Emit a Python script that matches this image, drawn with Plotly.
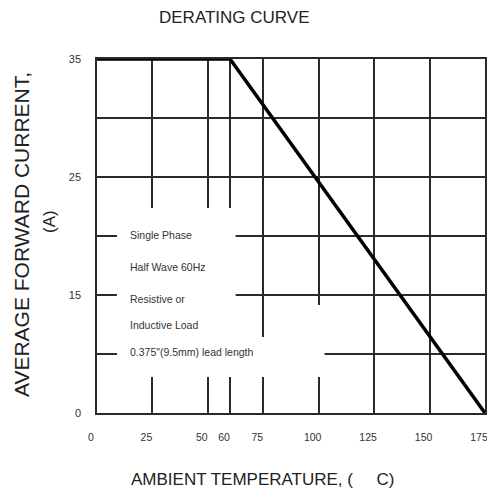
import plotly.graph_objects as go

# ---- data ----
temperature = [0, 60, 175]          # ambient temperature (°C)
current = [35, 35, 0]               # average forward current (A)

x_tick_vals = [0, 25, 50, 60, 75, 100, 125, 150, 175]
x_tick_text = ["0", "25", "50", "60", "75", "100", "125", "150", "175"]

y_tick_vals = [0, 35 / 6, 2 * 35 / 6, 3 * 35 / 6, 4 * 35 / 6, 5 * 35 / 6, 35]
y_tick_text = ["0", "", "15", "", "25", "", "35"]

note_lines = ["Single Phase", "Half Wave 60Hz", "Resistive or",
              "Inductive Load", "0.375\"(9.5mm) lead length"]
note_y = [0.503, 0.412, 0.322, 0.249, 0.172]

FONT = "Liberation Sans, Arial, sans-serif"
GRID = "#2a2a2a"

fig = go.Figure()
fig.add_trace(go.Scatter(
    x=temperature, y=current, mode="lines",
    line=dict(color="black", width=3.5),
    hoverinfo="skip", showlegend=False, cliponaxis=False,
))

fig.update_layout(
    width=487, height=498,
    margin=dict(l=97, r=2, t=59, b=85, autoexpand=False),
    paper_bgcolor="white", plot_bgcolor="white",
    font=dict(family=FONT, color="#222"),
    showlegend=False,
)

fig.update_xaxes(
    range=[0, 175], tickvals=x_tick_vals, ticktext=x_tick_text,
    showgrid=True, gridcolor=GRID, gridwidth=1.5,
    showline=True, linecolor=GRID, linewidth=1.5, mirror=True,
    ticks="outside", ticklen=14, tickcolor="rgba(0,0,0,0)",
    tickfont=dict(size=10.5, family=FONT, color="#333"),
    ticklabeloverflow="allow", ticklabelshift=-6, automargin=False,
    zeroline=False, fixedrange=True,
)
fig.update_yaxes(
    range=[0, 35], tickvals=y_tick_vals, ticktext=y_tick_text,
    showgrid=True, gridcolor=GRID, gridwidth=1.5,
    showline=True, linecolor=GRID, linewidth=1.5, mirror=True,
    ticks="outside", ticklen=12, tickcolor="rgba(0,0,0,0)",
    tickfont=dict(size=11, family=FONT, color="#333"),
    automargin=False,
    zeroline=False, fixedrange=True,
)

# white areas behind the note text (cover grid lines)
for x0, x1, y0, y1 in [(0.0514, 0.3573, 0.1017, 0.579),
                       (0.3573, 0.586, 0.1017, 0.2147),
                       (0.522, 0.586, 0.1017, 0.305)]:
    fig.add_shape(type="rect", xref="paper", yref="paper",
                  x0=x0, x1=x1, y0=y0, y1=y1,
                  fillcolor="white", line=dict(width=0), layer="above")

for txt, yy in zip(note_lines, note_y):
    fig.add_annotation(text=txt, xref="paper", yref="paper", x=0.0797, y=yy,
                       xanchor="left", yanchor="middle", showarrow=False,
                       font=dict(size=10.5, family=FONT, color="#333"))

fig.add_annotation(text="DERATING CURVE", xref="paper", yref="paper",
                   x=0.355, y=1.116, xanchor="center", yanchor="middle",
                   showarrow=False, font=dict(size=17, family=FONT, color="#222"))
fig.add_annotation(text="AMBIENT TEMPERATURE, (     C)", xref="paper", yref="paper",
                   x=0.427, y=-0.189, xanchor="center", yanchor="middle",
                   showarrow=False, font=dict(size=17, family=FONT, color="#222"))
fig.add_annotation(text="AVERAGE FORWARD CURRENT,", xref="paper", yref="paper",
                   x=-0.193, y=0.503, xanchor="center", yanchor="middle",
                   textangle=-90, showarrow=False,
                   font=dict(size=21, family=FONT, color="#222"))
fig.add_annotation(text="(A)", xref="paper", yref="paper",
                   x=-0.121, y=0.54, xanchor="center", yanchor="middle",
                   textangle=-90, showarrow=False,
                   font=dict(size=17, family=FONT, color="#222"))

fig.write_html("out.html",
               config={"displayModeBar": False},
               post_script="document.body.style.margin='0';"
                           "document.body.style.overflow='hidden';")
